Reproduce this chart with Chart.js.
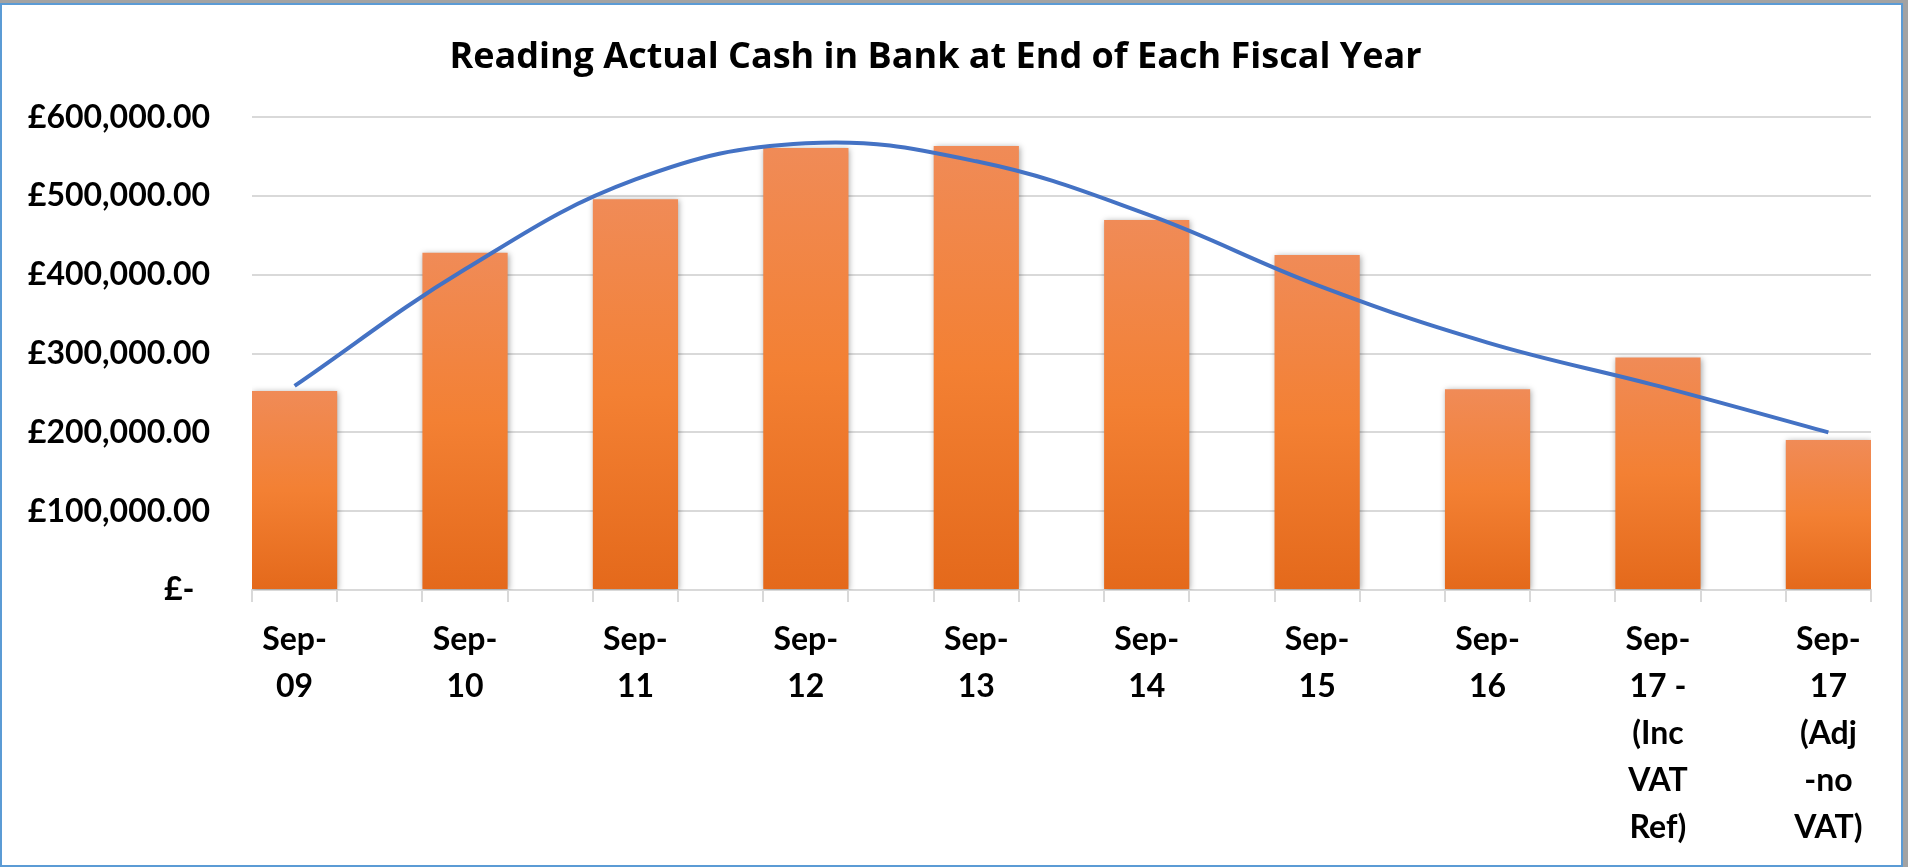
<!DOCTYPE html>
<html lang="en">
  <head>
    <meta charset="UTF-8" />
    <title>Cash in Bank</title>
    <script src="https://cdn.jsdelivr.net/npm/chart.js@4.4.0/dist/chart.umd.min.js"></script>
    <style>
      body {
        margin: 0;
        background: #a3a3a3;
        width: 1908px;
        height: 867px;
        overflow: hidden;
      }
      .frame {
        position: absolute;
        left: 0;
        top: 3px;
        width: 1903px;
        height: 864px;
        box-sizing: border-box;
        border: 2px solid #5b9bd5;
        background: #fff;
      }
      #cashChart {
        position: absolute;
        left: 0;
        top: 0;
      }
    </style>
  </head>
  <body>
    <div class="frame"></div>
    <canvas id="cashChart" width="1908" height="867"></canvas>

    <script>
      // x labels, one line per array entry
      const categories = [
        ["Sep-", "09"],
        ["Sep-", "10"],
        ["Sep-", "11"],
        ["Sep-", "12"],
        ["Sep-", "13"],
        ["Sep-", "14"],
        ["Sep-", "15"],
        ["Sep-", "16"],
        ["Sep-", "17 -", "(Inc", "VAT", "Ref)"],
        ["Sep-", "17", "(Adj", "-no", "VAT)"],
      ];
      const cashInBank = [252500, 428000, 496000, 561000, 563500, 469500, 425000, 254800, 295000, 190500];
      // trend line at each category
      const trendValues = [259000, 407000, 521000, 567000, 544000, 477000, 387000, 314000, 259000, 200000];
      const yTicks = [0, 100000, 200000, 300000, 400000, 500000, 600000];

      const FONT = "Lato, 'Open Sans', sans-serif";

      function barGradient(c) {
        const chart = c.chart;
        if (!chart.chartArea || !c.parsed) return "#f37f31";
        const y = chart.scales.y;
        const top = y.getPixelForValue(c.parsed.y);
        const bottom = y.getPixelForValue(0);
        const g = chart.ctx.createLinearGradient(0, top, 0, bottom);
        g.addColorStop(0, "#f08b57");
        g.addColorStop(0.5, "#f38033");
        g.addColorStop(1, "#e4691b");
        return g;
      }

      const barShadow = {
        id: "barShadow",
        beforeDatasetDraw(chart, args) {
          if (args.index !== 0) return;
          const ctx = chart.ctx;
          ctx.save();
          ctx.shadowColor = "rgba(0,0,0,0.35)";
          ctx.shadowBlur = 6;
          ctx.shadowOffsetX = 1;
          ctx.shadowOffsetY = 1;
        },
        afterDatasetDraw(chart, args) {
          if (args.index !== 0) return;
          chart.ctx.restore();
        },
      };

      const data = {
        datasets: [
          {
            type: "bar",
            label: "Cash in Bank",
            data: cashInBank.map((v, i) => ({ x: i, y: v })),
            backgroundColor: barGradient,
            // tick spacing on x is a quarter category, bar is half a category
            barPercentage: 2,
            categoryPercentage: 1,
            order: 1,
          },
          {
            type: "line",
            label: "Trend",
            data: trendValues.map((v, i) => ({ x: i, y: v })),
            borderColor: "#4472c4",
            borderWidth: 4,
            pointRadius: 0,
            tension: 0.4,
            fill: false,
            order: 0,
          },
        ],
      };

      const config = {
        type: "bar",
        data: data,
        plugins: [barShadow],
        options: {
          responsive: false,
          devicePixelRatio: 1,
          animation: false,
          layout: { padding: { left: 0, right: 37, top: 0, bottom: 0 } },
          plugins: {
            legend: { display: false },
            tooltip: { enabled: false },
            title: {
              display: true,
              text: "Reading Actual Cash in Bank at End of Each Fiscal Year",
              color: "#000",
              font: { family: "'Open Sans', sans-serif", size: 36, weight: "bold", lineHeight: 1.2 },
              padding: { top: 36, bottom: 38 },
            },
          },
          scales: {
            x: {
              type: "linear",
              offset: false,
              min: -0.25,
              max: cashInBank.length - 0.75,
              afterBuildTicks: (axis) => {
                const ticks = [];
                categories.forEach((_, i) => {
                  ticks.push({ value: i - 0.25 });
                  ticks.push({ value: i });
                  ticks.push({ value: i + 0.25 });
                });
                axis.ticks = ticks;
              },
              afterFit: (scale) => {
                scale.height = 277;
              },
              grid: {
                offset: false,
                drawOnChartArea: false,
                drawTicks: true,
                tickLength: 12,
                lineWidth: 2,
                color: (c) => (c.tick && Number.isInteger(c.tick.value) ? "rgba(0,0,0,0)" : "#d9d9d9"),
              },
              border: { display: true, color: "#d9d9d9", width: 2 },
              ticks: {
                autoSkip: false,
                maxRotation: 0,
                minRotation: 0,
                padding: 14,
                color: "#000",
                font: { family: FONT, size: 32, weight: "bold", lineHeight: 1.47 },
                callback: (v) => (Number.isInteger(v) ? categories[v] : ""),
              },
            },
            y: {
              min: yTicks[0],
              max: yTicks[yTicks.length - 1],
              afterBuildTicks: (axis) => {
                axis.ticks = yTicks.map((v) => ({ value: v }));
              },
              afterFit: (scale) => {
                scale.width = 252;
              },
              grid: { color: "#d9d9d9", lineWidth: 2, drawTicks: false },
              border: { display: false },
              ticks: {
                padding: 42,
                color: "#000",
                font: { family: FONT, size: 32, weight: "bold" },
                callback: (v) =>
                  v === 0
                    ? "£-  "
                    : "£" + v.toLocaleString("en-GB", { minimumFractionDigits: 2, maximumFractionDigits: 2 }),
              },
            },
          },
        },
      };

      const cashChart = new Chart(document.getElementById("cashChart"), config);
    </script>
  </body>
</html>
